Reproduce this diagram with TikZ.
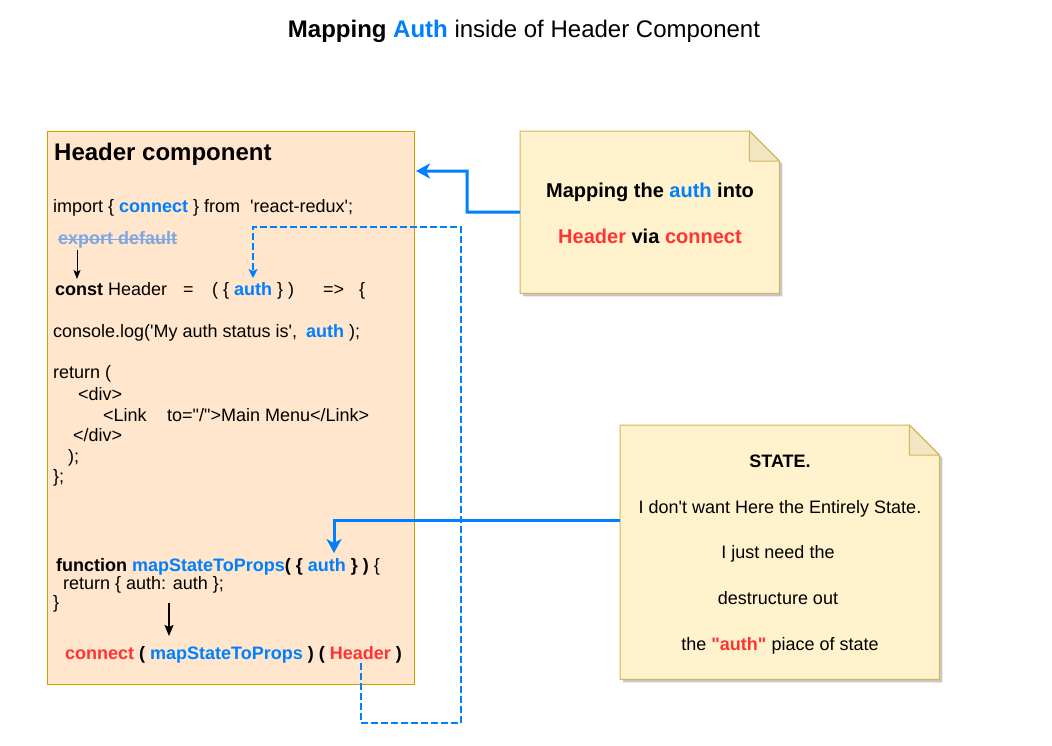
\documentclass[tikz,border=0pt]{standalone}
\usepackage{fontspec}
\newfontfamily\af{Liberation Sans}
\usetikzlibrary{arrows.meta}
\definecolor{ablue}{HTML}{007FFF}
\definecolor{ared}{HTML}{FF3333}
\definecolor{expcol}{HTML}{7EA6E0}
\definecolor{hdrfill}{HTML}{FFE6CC}
\definecolor{hdrline}{HTML}{D79B00}
\definecolor{notefill}{HTML}{FFF2CC}
\definecolor{noteline}{HTML}{D6B656}
\definecolor{foldfill}{HTML}{F2E6C2}
\newcommand{\bl}[1]{\textcolor{ablue}{\textbf{#1}}}
\newcommand{\rd}[1]{\textcolor{ared}{\textbf{#1}}}
\begin{document}
\begin{tikzpicture}[x=1pt,y=-1pt,
  txt/.style={inner sep=0pt,anchor=base west,font={\af\fontsize{18}{22}\selectfont}},
  ctxt/.style={inner sep=0pt,anchor=base,font={\af\fontsize{18}{22}\selectfont}},
  cbtxt/.style={inner sep=0pt,anchor=base,font={\af\fontsize{20}{24}\selectfont}},
  bigtxt/.style={inner sep=0pt,anchor=base west,font={\af\fontsize{24}{28}\selectfont}},
  hdrbox/.style={draw=hdrline,fill=hdrfill,line width=1pt,inner sep=0pt,anchor=north west},
  noteanchor/.style={inner sep=0pt,anchor=north west},
  notepath/.style={draw=noteline,fill=notefill,line width=1pt},
  shadowpath/.style={fill=black!22,draw=none},
  foldpath/.style={draw=noteline,fill=foldfill,line width=1pt,line join=round},
  barrow/.style={draw=ablue,line width=3pt,-{Stealth[length=14pt,width=15pt,inset=4pt]}},
  darrow/.style={draw=ablue,line width=1.6pt,dash pattern=on 7pt off 3pt,-{Stealth[length=9pt,width=9pt,inset=2pt]}},
  karrow/.style={draw=black,line width=1pt,-{Stealth[length=9pt,width=7pt,inset=2pt]}},
  kkarrow/.style={draw=black,line width=1.6pt,-{Stealth[length=11pt,width=9pt,inset=2pt]}}
]
\useasboundingbox[fill=white] (0,0) rectangle (1052,745);

% title
\node[inner sep=0pt,anchor=base,font={\af\fontsize{24}{28}\selectfont}] (title) at (524,37) {\textbf{Mapping} \bl{Auth} inside of Header Component};

% header component box
\node[hdrbox,minimum width=367pt,minimum height=553pt] (hdr) at (47,131) {};
\node[bigtxt] (hdrtitle) at (54,160) {\textbf{Header component}};
\node[txt] (imp) at (53,212) {import \{ \bl{connect} \} from\ \ 'react-redux';};
\node[txt,text=expcol] (exp) at (58,244) {\textbf{export default}};
\draw[expcol,line width=1pt] ([yshift=5pt]exp.base west) -- ([yshift=5pt]exp.base east);
\node[txt] (cst) at (55,295) {\textbf{const} Header};
\node[txt] (eq) at (183,295) {=};
\node[txt] (par) at (212,295) {( \{};
\node[txt] (auth1) at (234,295) {\bl{auth}};
\node[txt] (par2) at (277,295) {\} )};
\node[txt] (arr) at (323,295) {=>};
\node[txt] (brc) at (359,295) {\{};
\node[txt] (cons) at (53,337) {console.log('My auth status is',\hspace{9pt}\bl{auth} );};
\node[txt] (ret) at (53,378) {return (};
\node[txt] (div1) at (78,400) {<div>};
\node[txt] (lnk) at (103,421) {<Link};
\node[txt] (lnk2) at (167,421) {to="/">Main Menu</Link>};
\node[txt] (div2) at (73,441) {</div>};
\node[txt] (cl1) at (68,462) {);};
\node[txt] (cl2) at (53,482) {\};};
\node[txt] (fn) at (56,571) {\textbf{function} \bl{mapStateToProps}\textbf{( \{} \bl{auth} \textbf{\} )} \{};
\node[txt] (ret2) at (63,589) {return \{ auth: auth \};};
\node[txt] (cl3) at (53,608) {\}};
\node[txt] (conn) at (65,659) {\rd{connect} \textbf{(} \bl{mapStateToProps} \textbf{)} \textbf{(} \rd{Header} \textbf{)}};

% note 1
\node[noteanchor,minimum width=259pt,minimum height=162pt] (note1) at (520,131) {};
\fill[shadowpath] ([shift={(3pt,-3pt)}]note1.north west) -- ([shift={(-27pt,-3pt)}]note1.north east) -- ([shift={(3pt,-33pt)}]note1.north east) -- ([shift={(3pt,-3pt)}]note1.south east) -- ([shift={(3pt,-3pt)}]note1.south west) -- cycle;
\path[notepath] (note1.north west) -- ([xshift=-30pt]note1.north east) -- ([yshift=-30pt]note1.north east) -- (note1.south east) -- (note1.south west) -- cycle;
\path[foldpath] ([xshift=-30pt]note1.north east) -- ([xshift=-30pt,yshift=-30pt]note1.north east) -- ([yshift=-30pt]note1.north east) -- cycle;
\node[cbtxt] (n1a) at (650,197) {\textbf{Mapping the} \bl{auth} \textbf{into}};
\node[cbtxt] (n1b) at (650,243) {\rd{Header} \textbf{via} \rd{connect}};

% note 2
\node[noteanchor,minimum width=319pt,minimum height=254pt] (note2) at (620,425) {};
\fill[shadowpath] ([shift={(3pt,-3pt)}]note2.north west) -- ([shift={(-27pt,-3pt)}]note2.north east) -- ([shift={(3pt,-33pt)}]note2.north east) -- ([shift={(3pt,-3pt)}]note2.south east) -- ([shift={(3pt,-3pt)}]note2.south west) -- cycle;
\path[notepath] (note2.north west) -- ([xshift=-30pt]note2.north east) -- ([yshift=-30pt]note2.north east) -- (note2.south east) -- (note2.south west) -- cycle;
\path[foldpath] ([xshift=-30pt]note2.north east) -- ([xshift=-30pt,yshift=-30pt]note2.north east) -- ([yshift=-30pt]note2.north east) -- cycle;
\node[ctxt] (n2a) at (780,467) {\textbf{STATE.}};
\node[ctxt] (n2b) at (780,513) {I don't want Here the Entirely State.};
\node[ctxt] (n2c) at (778,558) {I just need the};
\node[ctxt] (n2d) at (778,604) {destructure out};
\node[ctxt] (n2e) at (780,650) {the \rd{"auth"} piace of state};

% connectors
\coordinate (h1) at (416,171);
\coordinate (n1out) at (note1.west);
\draw[barrow] (n1out) -- (467,212) |- (h1);

\coordinate (n2out) at (620,520);
\coordinate (fnauth) at (334,553);
\draw[barrow] (n2out) -| (fnauth);

\coordinate (hdrref) at (361,663);
\coordinate (constauth) at (253,278);
\draw[darrow] (hdrref) -- (361,723) -- (461,723) -- (461,227) -| (constauth);

\coordinate (expbot) at (77,250);
\coordinate (cstop) at (77,279);
\draw[karrow] (expbot) -- (cstop);

\coordinate (mapbot) at (169,603);
\coordinate (conntop) at (169,636);
\draw[kkarrow] (mapbot) -- (conntop);
\end{tikzpicture}
\end{document}
